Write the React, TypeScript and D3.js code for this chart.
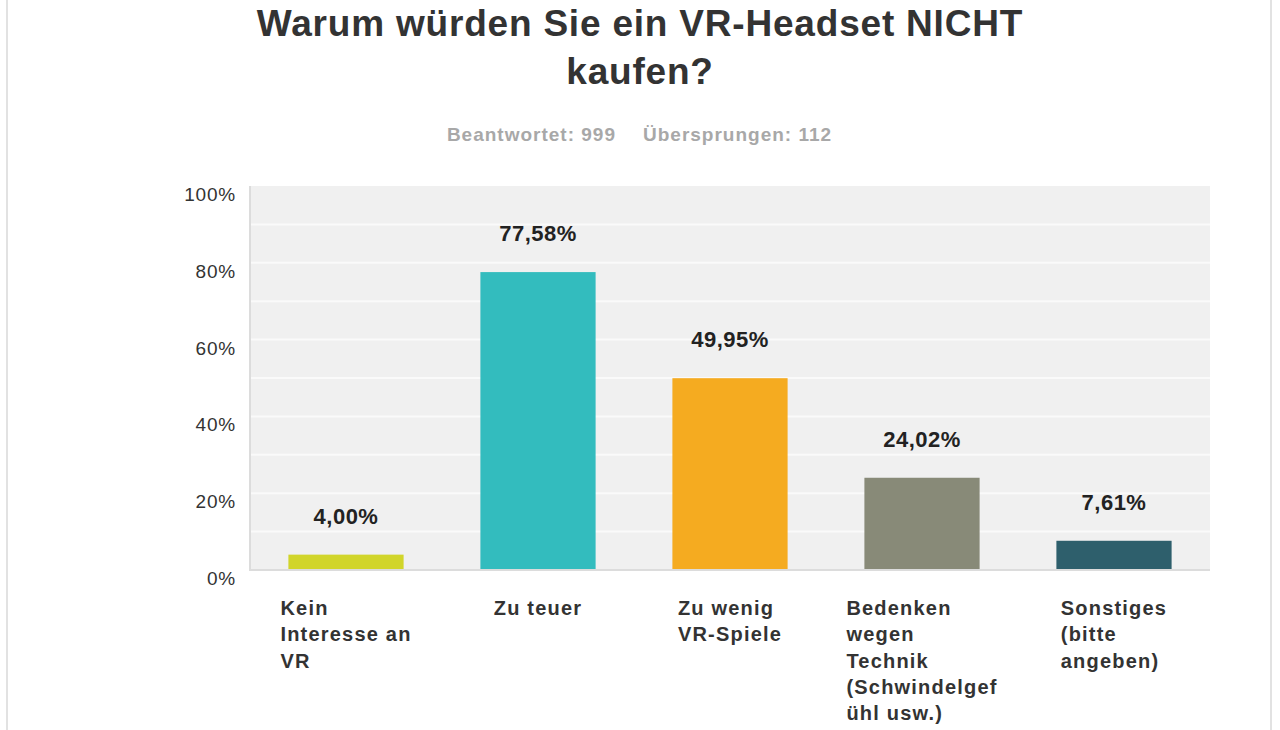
import { useEffect, useRef } from "react";
import * as d3 from "d3";

const categories = ["Kein Interesse an VR", "Zu teuer", "Zu wenig VR-Spiele", "Bedenken wegen Technik", "Sonstiges"];
const labelLines = [
  ["Kein", "Interesse an", "VR"],
  ["Zu teuer"],
  ["Zu wenig", "VR-Spiele"],
  ["Bedenken", "wegen", "Technik", "(Schwindelgef", "ühl usw.)"],
  ["Sonstiges", "(bitte", "angeben)"],
];
const values = [4.0, 77.58, 49.95, 24.02, 7.61];
const barColors = ["#d1d52a", "#33bcbe", "#f5ab20", "#888a78", "#2e5f6c"];
const yTicks = [0, 20, 40, 60, 80, 100];
const gridTicks = [10, 20, 30, 40, 50, 60, 70, 80, 90];

const titleLines = ["Warum würden Sie ein VR-Headset NICHT", "kaufen?"];
const answered = "Beantwortet: 999";
const skipped = "Übersprungen: 112";

const W = 1280;
const H = 730;
const FONT = "'Liberation Sans', Arial, sans-serif";

export default function App() {
  const ref = useRef<SVGSVGElement>(null);

  useEffect(() => {
    document.body.style.margin = "0";
    const svg = d3.select(ref.current);
    svg.selectAll("*").remove();

    const left = 250, right = 1210, top = 186, bottom = 570;

    const x = d3.scaleBand<string>()
      .domain(categories)
      .range([left, right])
      .paddingInner(0.4)
      .paddingOuter(0.2);
    const y = d3.scaleLinear().domain([0, 100]).range([bottom, top]);

    // outer frame
    svg.append("rect").attr("width", W).attr("height", H).attr("fill", "#fff");
    [7, 1271].forEach(fx => {
      svg.append("line")
        .attr("x1", fx).attr("x2", fx).attr("y1", 0).attr("y2", H)
        .attr("stroke", "#e2e2e2").attr("stroke-width", 2);
    });

    // title
    svg.append("g").selectAll("text")
      .data(titleLines)
      .join("text")
      .attr("x", 640)
      .attr("y", (_, i) => 36 + i * 48)
      .attr("text-anchor", "middle")
      .attr("font-family", FONT)
      .attr("font-weight", "bold")
      .attr("font-size", 37)
      .attr("letter-spacing", 0.8)
      .attr("fill", "#333")
      .text(d => d);

    const sub = svg.append("g")
      .attr("font-family", FONT)
      .attr("font-weight", "bold")
      .attr("font-size", 19)
      .attr("letter-spacing", 1)
      .attr("fill", "#a8a8a8");
    sub.append("text").attr("x", 616).attr("y", 141).attr("text-anchor", "end").text(answered);
    sub.append("text").attr("x", 643).attr("y", 141).text(skipped);

    // plot background and grid
    svg.append("rect")
      .attr("x", left).attr("y", top)
      .attr("width", right - left).attr("height", bottom - top)
      .attr("fill", "#f0f0f0");

    svg.append("g").selectAll("line")
      .data(gridTicks)
      .join("line")
      .attr("x1", left).attr("x2", right)
      .attr("y1", d => y(d)).attr("y2", d => y(d))
      .attr("stroke", "#fafafa").attr("stroke-width", 2);

    svg.append("line")
      .attr("x1", left).attr("x2", left).attr("y1", top).attr("y2", bottom + 1)
      .attr("stroke", "#dcdcdc").attr("stroke-width", 2);
    svg.append("line")
      .attr("x1", left).attr("x2", right).attr("y1", bottom).attr("y2", bottom)
      .attr("stroke", "#dcdcdc").attr("stroke-width", 2);

    // y tick labels
    svg.append("g").selectAll("text")
      .data(yTicks)
      .join("text")
      .attr("x", 236)
      .attr("y", d => y(d) + 15)
      .attr("text-anchor", "end")
      .attr("font-family", FONT)
      .attr("font-size", 19)
      .attr("letter-spacing", 0.8)
      .attr("fill", "#333")
      .text(d => `${d}%`);

    // bars
    svg.append("g").selectAll("rect")
      .data(values)
      .join("rect")
      .attr("x", (_, i) => x(categories[i])!)
      .attr("y", d => y(d))
      .attr("width", x.bandwidth())
      .attr("height", d => bottom - 1 - y(d))
      .attr("fill", (_, i) => barColors[i]);

    // value labels
    svg.append("g").selectAll("text")
      .data(values)
      .join("text")
      .attr("x", (_, i) => x(categories[i])! + x.bandwidth() / 2)
      .attr("y", d => y(d) - 31)
      .attr("text-anchor", "middle")
      .attr("font-family", FONT)
      .attr("font-weight", "bold")
      .attr("font-size", 22)
      .attr("letter-spacing", 0.5)
      .attr("fill", "#222")
      .text(d => d.toFixed(2).replace(".", ",") + "%");

    // category labels: left-aligned lines, block centred under the bar
    categories.forEach((c, i) => {
      const g = svg.append("g")
        .attr("font-family", FONT)
        .attr("font-weight", "bold")
        .attr("font-size", 20)
        .attr("letter-spacing", 1.2)
        .attr("fill", "#333");
      const texts = g.selectAll<SVGTextElement, string>("text")
        .data(labelLines[i])
        .join("text")
        .attr("y", (_, j) => 615 + j * 26.3)
        .text(d => d);
      let maxW = 0;
      texts.each(function () {
        maxW = Math.max(maxW, this.getComputedTextLength());
      });
      const cx = x(c)! + x.bandwidth() / 2;
      texts.attr("x", cx - maxW / 2);
    });
  }, []);

  return <svg ref={ref} width={W} height={H} style={{ display: "block" }}></svg>;
}
